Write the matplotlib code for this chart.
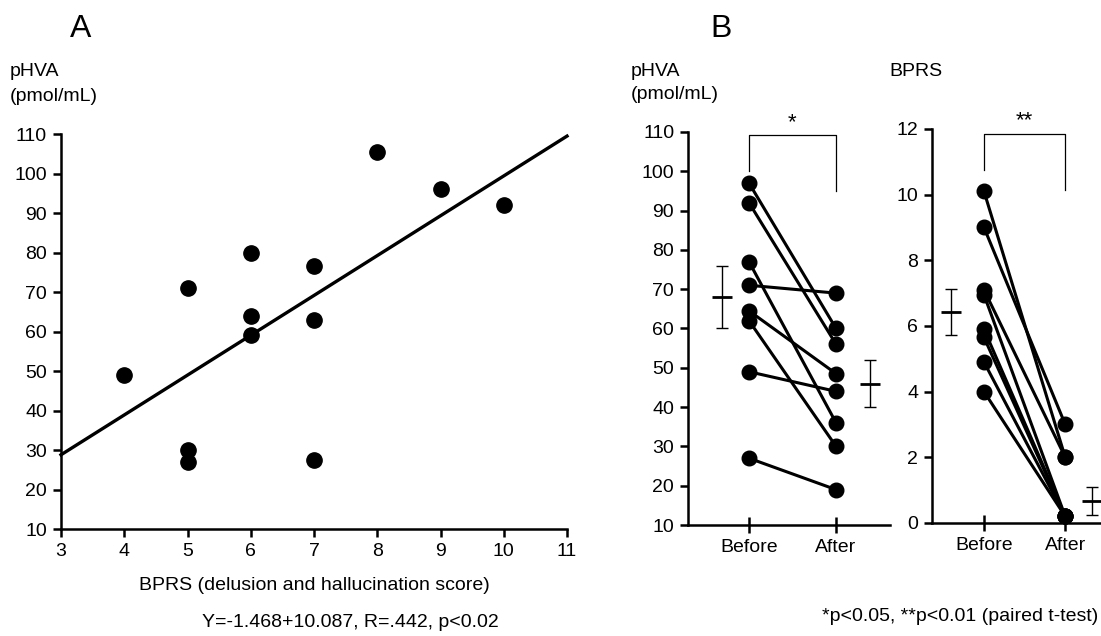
import matplotlib.pyplot as plt

plt.rcParams['font.family'] = ['Liberation Sans', 'DejaVu Sans']

# Panel A: BPRS (delusion and hallucination score) vs pHVA
bprs_score = [4, 5, 5, 5, 6, 6, 6, 7, 7, 7, 8, 9, 10]
phva_a = [49, 71, 30, 27, 80, 64, 59, 76.5, 63, 27.5, 105.5, 96, 92]
fit_intercept = -1.468
fit_slope = 10.087
fit_x = [3, 11]

# Panel B: before / after treatment (paired)
phva_before = [97, 92, 77, 71, 64.5, 62, 49, 27]
phva_after = [60, 56, 36, 69, 48.5, 30, 44, 19]
phva_mean = [68, 46]
phva_sem = [7.8, 6]

bprs_before = [10.1, 9.0, 7.1, 6.95, 5.9, 5.65, 4.9, 4.0]
bprs_after = [2.0, 3.0, 2.0, 0.2, 0.2, 0.2, 0.2, 0.2]
bprs_mean = [6.42, 0.66]
bprs_sem = [0.7, 0.43]

groups = ['Before', 'After']

LW = 1.8
FS = 14

fig = plt.figure(figsize=(11.01, 6.36), dpi=100)


def style(ax):
    for s in ['top', 'right']:
        ax.spines[s].set_visible(False)
    for s in ['left', 'bottom']:
        ax.spines[s].set_linewidth(LW)
    ax.tick_params(length=6, width=LW, labelsize=FS, pad=4)


# ---- A ----
axA = fig.add_axes([0.0554, 0.1682, 0.4596, 0.621])
style(axA)
axA.plot(bprs_score, phva_a, 'o', color='black', markersize=11)
fit_y = [fit_intercept + fit_slope * x for x in fit_x]
axA.plot(fit_x, fit_y, color='black', lw=2.4, clip_on=False)
axA.set_xlim(3, 11)
axA.set_ylim(10, 110)
axA.set_xticks(range(3, 12))
axA.set_yticks(range(10, 111, 10))
axA.set_xlabel('BPRS (delusion and hallucination score)', fontsize=FS, labelpad=12)

fig.text(0.073, 0.955, 'A', fontsize=23, ha='center', va='center')
fig.text(0.009, 0.887, 'pHVA', fontsize=FS, va='center')
fig.text(0.009, 0.848, '(pmol/mL)', fontsize=FS, va='center')
fig.text(0.318, 0.022, 'Y=-1.468+10.087, R=.442, p<0.02', fontsize=FS, ha='center', va='center')


def paired(ax, before, after, mean, sem, ex, ylim, yticks, bracket, star, stars):
    style(ax)
    ax.tick_params(axis='x', direction='inout', length=12)
    for b, a in zip(before, after):
        ax.plot([1, 2], [b, a], '-o', color='black', lw=2.2, markersize=10.5, clip_on=False)
    for x, m, e in zip(ex, mean, sem):
        ax.errorbar([x], [m], yerr=[e], fmt='none', ecolor='black', elinewidth=1.0,
                    capsize=4, capthick=1.0)
        ax.plot([x], [m], marker='_', color='black', markersize=14, mew=2.0)
    ax.set_ylim(*ylim)
    ax.set_yticks(yticks)
    ax.set_xticks([1, 2])
    ax.set_xticklabels(groups)
    # significance bracket
    top, lb, rb = bracket
    ax.plot([1, 1, 2, 2], [lb, top, top, rb], color='black', lw=0.9, clip_on=False)
    ax.text(1.5, star, stars, ha='center', va='center', fontsize=16)


# ---- B: pHVA ----
axB1 = fig.add_axes([0.6249, 0.1745, 0.1835, 0.618])
axB1.set_xlim(0.30, 2.62)
paired(axB1, phva_before, phva_after, phva_mean, phva_sem, [0.69, 2.39],
       (10, 110), range(10, 111, 10), (109.2, 100, 95), 112.3, '*')

# ---- B: BPRS ----
axB2 = fig.add_axes([0.8465, 0.1777, 0.1535, 0.6195])
axB2.set_xlim(0.36, 2.44)
paired(axB2, bprs_before, bprs_after, bprs_mean, bprs_sem, [0.6, 2.33],
       (0, 12), range(0, 13, 2), (11.85, 10.74, 10.13), 12.25, '**')

fig.text(0.655, 0.955, 'B', fontsize=23, ha='center', va='center')
fig.text(0.573, 0.887, 'pHVA', fontsize=FS, va='center')
fig.text(0.573, 0.851, '(pmol/mL)', fontsize=FS, va='center')
fig.text(0.808, 0.887, 'BPRS', fontsize=FS, va='center')
fig.text(0.872, 0.030, '*p<0.05, **p<0.01 (paired t-test)', fontsize=FS, ha='center', va='center')

fig.savefig('out.png', dpi=100)
